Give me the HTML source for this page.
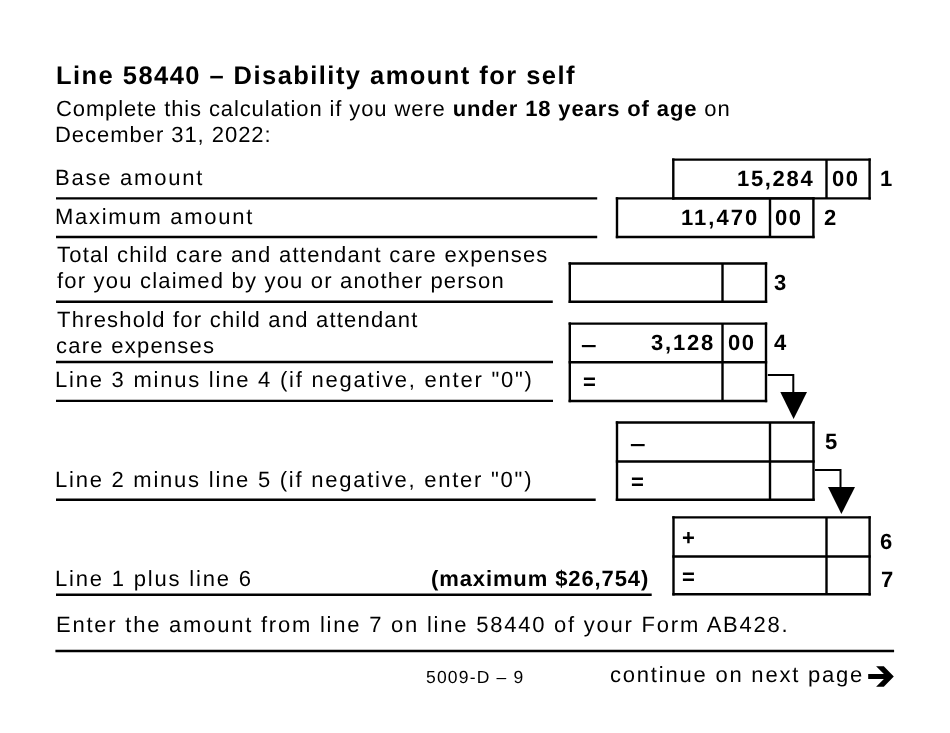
<!DOCTYPE html>
<html lang="en"><head><meta charset="utf-8"><title>Line 58440 – Disability amount for self</title>
<style>
html,body{margin:0;padding:0;background:#fff;}
body{width:950px;height:733px;position:relative;overflow:hidden;font-family:"Liberation Sans",Arial,Helvetica,sans-serif;color:#000;}
.t{position:absolute;white-space:nowrap;font-size:22px;line-height:1;text-rendering:geometricPrecision;will-change:transform;}
.t b{font-weight:700;}
svg{position:absolute;left:0;top:0;}
</style></head><body>

<div class="t" style="left:55.85px;top:64px;font-size:25.5px;font-weight:700;letter-spacing:1.45px">Line 58440 – Disability amount for self</div>
<div class="t" style="left:56.2px;top:98px;letter-spacing:0.88px">Complete this calculation if you were <b>under 18 years of age</b> on</div>
<div class="t" style="left:55.25px;top:124px;letter-spacing:0.96px">December 31, 2022:</div>
<div class="t" style="left:55.25px;top:167px;letter-spacing:1.77px">Base amount</div>
<div class="t" style="left:55.25px;top:206px;letter-spacing:1.73px">Maximum amount</div>
<div class="t" style="left:56.5px;top:244px;letter-spacing:1.25px">Total child care and attendant care expenses</div>
<div class="t" style="left:56.75px;top:270px;letter-spacing:1.2px">for you claimed by you or another person</div>
<div class="t" style="left:56.5px;top:309px;letter-spacing:1.21px">Threshold for child and attendant</div>
<div class="t" style="left:55.6px;top:335px;letter-spacing:1.25px">care expenses</div>
<div class="t" style="left:55.25px;top:369px;letter-spacing:1.77px">Line 3 minus line 4 (if negative, enter "0")</div>
<div class="t" style="left:55.25px;top:469px;letter-spacing:1.76px">Line 2 minus line 5 (if negative, enter "0")</div>
<div class="t" style="left:55.25px;top:568px;letter-spacing:1.81px">Line 1 plus line 6</div>
<div class="t" style="left:430.5px;top:568px;font-weight:700;letter-spacing:0.89px">(maximum $26,754)</div>
<div class="t" style="left:56.25px;top:614px;letter-spacing:1.77px">Enter the amount from line 7 on line 58440 of your Form AB428.</div>
<div class="t" style="left:426.15px;top:669px;font-size:17.5px;letter-spacing:1.18px">5009-D – 9</div>
<div class="t" style="left:609.9px;top:664px;letter-spacing:1.79px">continue on next page</div>
<div class="t" style="left:737.3px;top:168px;font-weight:700;letter-spacing:1.67px">15,284</div>
<div class="t" style="left:832.4px;top:168px;font-weight:700;letter-spacing:1.6px">00</div>
<div class="t" style="left:880.1px;top:168px;font-weight:700">1</div>
<div class="t" style="left:680.7px;top:207px;font-weight:700;letter-spacing:2.01px">11,470</div>
<div class="t" style="left:775.2px;top:207px;font-weight:700;letter-spacing:1.6px">00</div>
<div class="t" style="left:824.3px;top:207px;font-weight:700">2</div>
<div class="t" style="left:774.0px;top:272px;font-weight:700">3</div>
<div class="t" style="left:651.2px;top:332px;font-weight:700;letter-spacing:1.81px">3,128</div>
<div class="t" style="left:728.4px;top:332px;font-weight:700;letter-spacing:1.6px">00</div>
<div class="t" style="left:774.0px;top:332px;font-weight:700">4</div>
<div class="t" style="left:824.6px;top:431px;font-weight:700">5</div>
<div class="t" style="left:880.2px;top:531px;font-weight:700">6</div>
<div class="t" style="left:880.6px;top:569px;font-weight:700">7</div>
<div class="t" style="left:583.0px;top:371px;font-weight:700">=</div>
<div class="t" style="left:630.7px;top:471px;font-weight:700">=</div>
<div class="t" style="left:682.3px;top:527px;font-weight:700">+</div>
<div class="t" style="left:682.3px;top:566px;font-weight:700">=</div>
<div class="t" style="left:581.30px;top:334px;font-weight:700;transform:scaleX(1.27);transform-origin:0 0">–</div>
<div class="t" style="left:629.90px;top:433px;font-weight:700;transform:scaleX(1.27);transform-origin:0 0">–</div>
<svg width="950" height="733" viewBox="0 0 950 733"><g stroke="#000" stroke-width="2.4" fill="none"><line x1="56" y1="198.4" x2="597.2" y2="198.4"/><line x1="56" y1="237" x2="597.2" y2="237"/><line x1="56" y1="301.8" x2="552.8" y2="301.8"/><line x1="56" y1="362" x2="553" y2="362"/><line x1="56" y1="400.9" x2="553" y2="400.9"/><line x1="56" y1="499.8" x2="595.7" y2="499.8"/><line x1="56" y1="594.8" x2="651.7" y2="594.8"/><line x1="55.4" y1="651" x2="894.1" y2="651"/><line x1="672.1" y1="159.6" x2="870.8" y2="159.6"/><line x1="672.1" y1="198.4" x2="870.8" y2="198.4"/><line x1="673.3" y1="158.4" x2="673.3" y2="199.6"/><line x1="869.6" y1="158.4" x2="869.6" y2="199.6"/><line x1="826.5" y1="159.6" x2="826.5" y2="198.4"/><line x1="615.8" y1="198.4" x2="814.6" y2="198.4"/><line x1="615.8" y1="237" x2="814.6" y2="237"/><line x1="617" y1="197.2" x2="617" y2="238.2"/><line x1="813.4" y1="197.2" x2="813.4" y2="238.2"/><line x1="770" y1="198.4" x2="770" y2="237"/><line x1="568.6" y1="263.5" x2="767.2" y2="263.5"/><line x1="568.6" y1="301.8" x2="767.2" y2="301.8"/><line x1="569.8" y1="262.3" x2="569.8" y2="303"/><line x1="766" y1="262.3" x2="766" y2="303"/><line x1="722.5" y1="263.5" x2="722.5" y2="301.8"/><line x1="568.6" y1="323.6" x2="767.2" y2="323.6"/><line x1="568.6" y1="362.2" x2="767.2" y2="362.2"/><line x1="568.6" y1="401" x2="767.2" y2="401"/><line x1="569.8" y1="322.4" x2="569.8" y2="402.2"/><line x1="766" y1="322.4" x2="766" y2="402.2"/><line x1="722.5" y1="323.6" x2="722.5" y2="401"/><line x1="615.8" y1="422.5" x2="814.7" y2="422.5"/><line x1="615.8" y1="461.5" x2="814.7" y2="461.5"/><line x1="615.8" y1="499.7" x2="814.7" y2="499.7"/><line x1="617" y1="421.3" x2="617" y2="500.9"/><line x1="813.5" y1="421.3" x2="813.5" y2="500.9"/><line x1="770" y1="422.5" x2="770" y2="499.7"/><line x1="672.3" y1="517.4" x2="870.8" y2="517.4"/><line x1="672.3" y1="556.5" x2="870.8" y2="556.5"/><line x1="672.3" y1="594.3" x2="870.8" y2="594.3"/><line x1="673.5" y1="516.2" x2="673.5" y2="595.5"/><line x1="869.6" y1="516.2" x2="869.6" y2="595.5"/><line x1="826.5" y1="517.4" x2="826.5" y2="594.3"/></g><g stroke="#000" stroke-width="2" fill="none"><polyline points="767.8,375.1 793.3,375.1 793.3,394"/><polyline points="815,470.1 840.5,470.1 840.5,489"/></g><g fill="#000"><polygon points="780.3,392 807,392 793.6,419"/><polygon points="828,487 855,487 841.4,514"/><polygon points="868.2,674 883.9,674 876.1,666.2 883.8,666.2 893.8,676.5 883.8,686.7 876.1,686.7 883.9,679 868.2,679"/></g></svg>
</body></html>
